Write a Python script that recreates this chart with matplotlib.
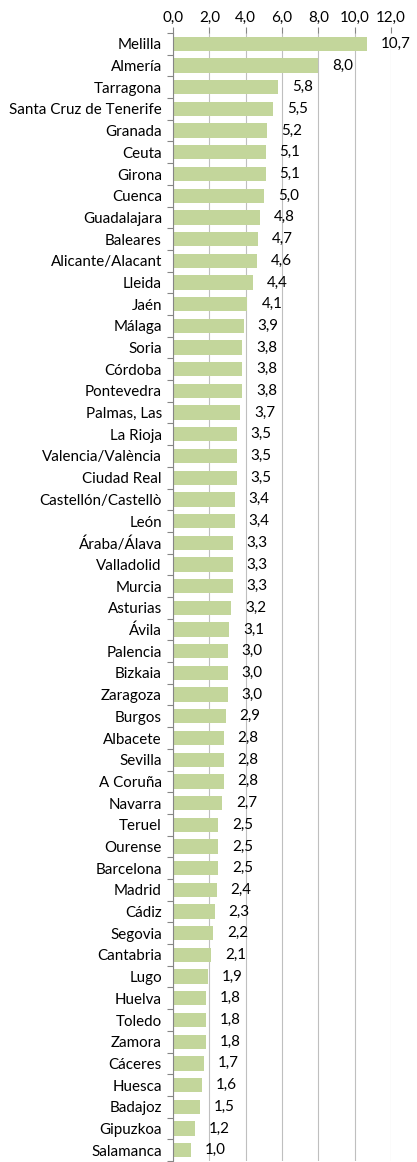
import matplotlib
matplotlib.use("Agg")
import matplotlib.pyplot as plt
from matplotlib.ticker import FixedLocator

provinces = ["Melilla", "Almería", "Tarragona", "Santa Cruz de Tenerife", "Granada", "Ceuta",
             "Girona", "Cuenca", "Guadalajara", "Baleares", "Alicante/Alacant", "Lleida", "Jaén",
             "Málaga", "Soria", "Córdoba", "Pontevedra", "Palmas, Las", "La Rioja",
             "Valencia/València", "Ciudad Real", "Castellón/Castellò", "León", "Áraba/Álava",
             "Valladolid", "Murcia", "Asturias", "Ávila", "Palencia", "Bizkaia", "Zaragoza",
             "Burgos", "Albacete", "Sevilla", "A Coruña", "Navarra", "Teruel", "Ourense",
             "Barcelona", "Madrid", "Cádiz", "Segovia", "Cantabria", "Lugo", "Huelva", "Toledo",
             "Zamora", "Cáceres", "Huesca", "Badajoz", "Gipuzkoa", "Salamanca"]
values = [10.7, 8.0, 5.8, 5.5, 5.2, 5.1, 5.1, 5.0, 4.8, 4.7, 4.6, 4.4, 4.1, 3.9, 3.8, 3.8,
          3.8, 3.7, 3.5, 3.5, 3.5, 3.4, 3.4, 3.3, 3.3, 3.3, 3.2, 3.1, 3.0, 3.0, 3.0, 2.9,
          2.8, 2.8, 2.8, 2.7, 2.5, 2.5, 2.5, 2.4, 2.3, 2.2, 2.1, 1.9, 1.8, 1.8, 1.8, 1.7,
          1.6, 1.5, 1.2, 1.0]
xticks = [0, 2, 4, 6, 8, 10, 12]
xtick_labels = ["0,0", "2,0", "4,0", "6,0", "8,0", "10,0", "12,0"]

plt.rcParams['font.family'] = ['Lato', 'DejaVu Sans']
FS = 10.9

W, H = 417, 1162
fig = plt.figure(figsize=(W / 100, H / 100), dpi=100)
ax = fig.add_axes([173 / W, 1 - 1161 / H, (391 - 173) / W, (1161 - 33) / H])

n = len(provinces)
ypos = list(range(n))
ax.barh(ypos, values, height=0.66, color="#c3d69b", zorder=2)
ax.set_ylim(n - 0.5, -0.5)
ax.set_xlim(0, 12)

ax.set_yticks(ypos)
ax.set_yticklabels(provinces, fontsize=FS, color="#000000")
ax.yaxis.set_minor_locator(FixedLocator([i - 0.5 for i in range(n + 1)]))
ax.tick_params(axis='y', which='major', length=0, pad=8)
ax.tick_params(axis='y', which='minor', length=4, color="#868686", width=0.8)

ax.xaxis.tick_top()
ax.set_xticks(xticks)
ax.set_xticklabels(xtick_labels, fontsize=FS)
ax.tick_params(axis='x', which='major', length=4, color="#868686", width=0.8, pad=2)

ax.grid(axis='x', color="#bfbfbf", linewidth=0.8, zorder=0)
for s in ["right", "bottom", "top"]:
    ax.spines[s].set_visible(False)
ax.spines["left"].set_color("#868686")
ax.spines["left"].set_linewidth(0.8)

for y, v in zip(ypos, values):
    ax.annotate(f"{v:.1f}".replace(".", ","), xy=(v, y), xytext=(10, 0),
                textcoords="offset points", va="center", ha="left", fontsize=FS,
                annotation_clip=False)

fig.savefig("out.png", dpi=100)
